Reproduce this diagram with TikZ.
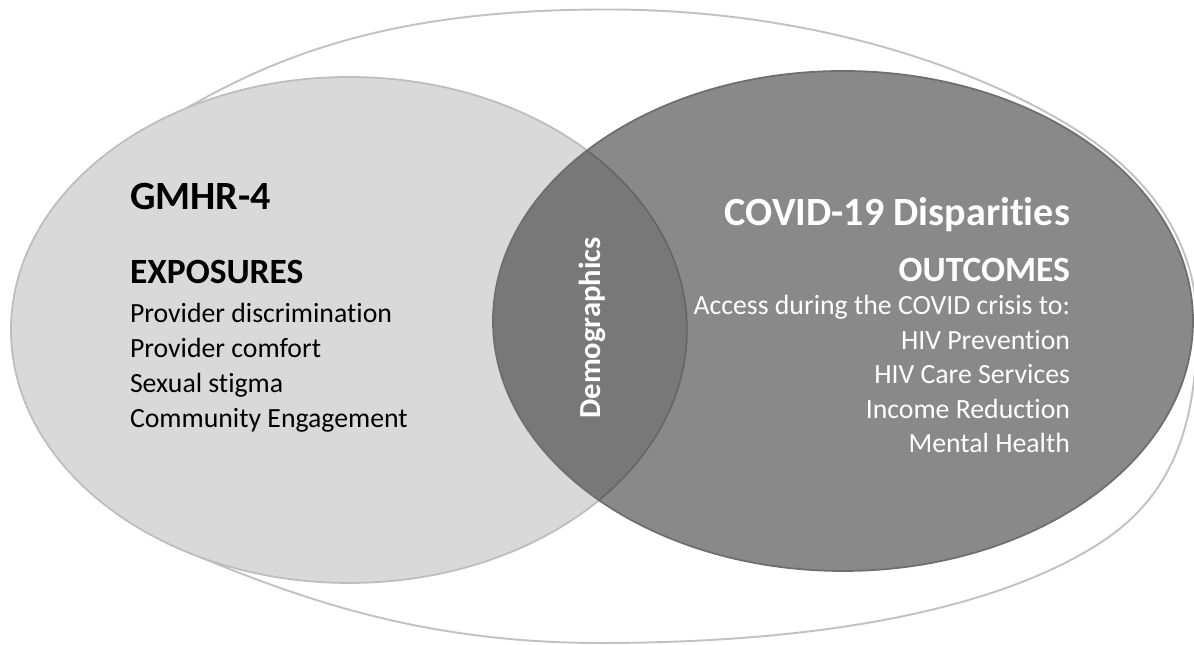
\documentclass[tikz,border=0pt]{standalone}
\usepackage{fontspec}
\setmainfont{Carlito}[Ligatures={CommonOff,ContextualOff}]
\usetikzlibrary{positioning}
\definecolor{lightfill}{HTML}{D9D9D9}
\definecolor{lightedge}{HTML}{BDBDBD}
\definecolor{darkfill}{HTML}{898989}
\definecolor{darkedge}{HTML}{6E6E6E}
\definecolor{lensfill}{HTML}{787878}
\definecolor{outeredge}{HTML}{C2C2C2}

\begin{document}
\begin{tikzpicture}[every node/.style={inner sep=0pt, outer sep=0pt},
  ring/.style={draw=outeredge, line width=0.55pt},
  title/.style={font=\bfseries\fontsize{11.4}{13}\selectfont},
  head/.style={font=\bfseries\fontsize{10.1}{12}\selectfont},
  item/.style={font=\fontsize{7.9}{9.5}\selectfont}]
  \useasboundingbox (0,0) rectangle (11.94,6.45);
  % outer frame
  \draw[ring] (0.45,3.20) .. controls +(90:1.0) and +(210:0.8) .. (1.87,5.37)
    .. controls +(30:1.2) and +(180:2.0) .. (6.07,6.355)
    .. controls +(0:1.8) and +(150:1.3) .. (10.60,5.25)
    .. controls +(-30:0.8) and +(90:1.0) .. (11.97,3.20)
    .. controls +(-90:1.1) and +(33:0.8) .. (11.00,1.02)
    .. controls +(-147:1.0) and +(0:2.6) .. (6.00,0.02)
    .. controls +(180:1.8) and +(-23:1.3) .. (1.76,0.98)
    .. controls +(157:0.8) and +(-90:0.9) .. (0.45,3.20) -- cycle;
  % the two sets
  \fill[lightfill] (3.49,3.15) ellipse (3.38 and 2.53);
  \draw[lightedge, line width=0.5pt] (3.49,3.15) ellipse (3.38 and 2.53);
  \fill[darkfill] (8.43,3.24) ellipse (3.50 and 2.50);
  % overlap
  \begin{scope}
    \clip (3.49,3.15) ellipse (3.38 and 2.53);
    \fill[lensfill] (8.43,3.24) ellipse (3.50 and 2.50);
  \end{scope}
  \begin{scope}
    \clip (8.43,3.24) ellipse (3.50 and 2.50);
    \draw[darkedge!90!black, line width=0.4pt] (3.49,3.15) ellipse (3.38 and 2.53);
  \end{scope}
  \draw[darkedge, line width=0.5pt] (8.43,3.24) ellipse (3.50 and 2.50);

  % left set
  \node[title, anchor=base west] (gmhr) at (1.30,4.35) {GMHR-4};
  \node[head, anchor=base west] (expo) at (1.30,3.61) {EXPOSURES};
  \foreach \t [count=\i] in {Provider discrimination, Provider comfort, Sexual stigma, Community Engagement}
    \node[item, anchor=base west] (exp\i) at (1.30,{3.22-0.347*(\i-1)}) {\t};

  % right set
  \node[title, text=white, anchor=base east] (covid) at (10.70,4.19) {COVID-19 Disparities};
  \node[head, text=white, anchor=base east] (outc) at (10.70,3.63) {OUTCOMES};
  \foreach \t [count=\i] in {Access during the COVID crisis to:, HIV Prevention, HIV Care Services, Income Reduction, Mental Health}
    \node[item, text=white, anchor=base east] (out\i) at (10.70,{3.30-0.345*(\i-1)}) {\t};

  % overlap label
  \node[font=\bfseries\fontsize{8.7}{10}\selectfont, text=white, rotate=90] (demo) at (5.92,3.17) {Demographics};
\end{tikzpicture}
\end{document}
